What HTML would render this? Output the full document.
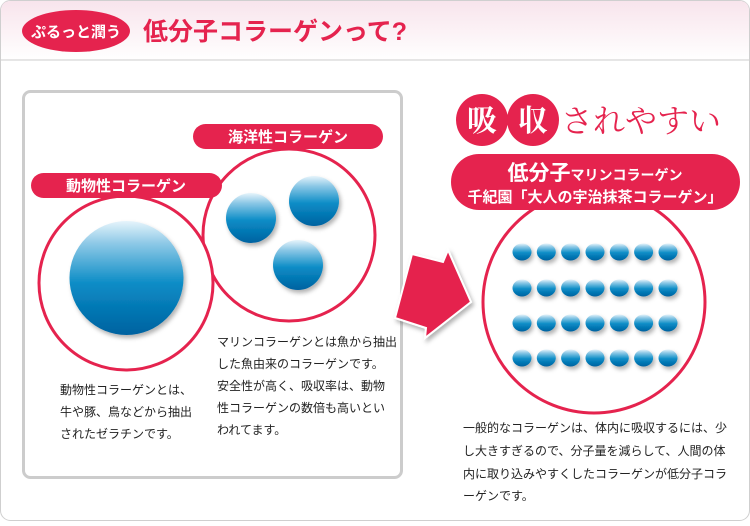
<!DOCTYPE html>
<html><head><meta charset="utf-8"><style>
html,body{margin:0;padding:0;background:#fff;}
body{width:750px;height:521px;overflow:hidden;font-family:"Liberation Sans","Noto Sans CJK JP",sans-serif;}
</style></head><body>
<svg width="750" height="521" viewBox="0 0 750 521" xmlns="http://www.w3.org/2000/svg" font-family="Liberation Sans, Noto Sans CJK JP, sans-serif">
<defs>
<linearGradient id="hdr" x1="0" y1="0" x2="0" y2="1"><stop offset="0" stop-color="#f8e4ec"/><stop offset="1" stop-color="#fff"/></linearGradient>
<linearGradient id="ball" x1="0" y1="0" x2="0" y2="1"><stop offset="0" stop-color="#e6f4fb"/><stop offset="0.2" stop-color="#8cc8e6"/><stop offset="0.55" stop-color="#0a8cc6"/><stop offset="1" stop-color="#0062a0"/></linearGradient>
<filter id="sh" x="-30%" y="-30%" width="160%" height="160%"><feDropShadow dx="2" dy="3" stdDeviation="2" flood-color="#000" flood-opacity="0.3"/></filter>
</defs>
<rect x="0.5" y="0.5" width="749" height="520" rx="10" fill="#fff" stroke="#cfcfcf"/>
<path d="M1 60 V11 Q1 1 11 1 H739 Q749 1 749 11 V60 Z" fill="url(#hdr)"/>
<line x1="1" y1="60" x2="749" y2="60" stroke="#cccccc"/>
<ellipse cx="76" cy="31" rx="54" ry="21" fill="#e5234e"/>
<text x="76" y="37" font-size="15" font-weight="bold" fill="#fff" text-anchor="middle">ぷるっと潤う</text>
<text x="143" y="40" font-size="25" font-weight="bold" fill="#e5234e">低分子コラーゲンって?</text>

<rect x="23.5" y="91.5" width="378" height="386" rx="7" fill="#fff" stroke="#cccccc" stroke-width="3"/>

<circle cx="289" cy="235" r="86" fill="#fff" stroke="#e5234e" stroke-width="3"/>
<circle cx="126" cy="283" r="87" fill="#fff" stroke="#e5234e" stroke-width="3"/>
<rect x="31" y="173" width="191" height="25" rx="12.5" fill="#e5234e"/>
<text x="126" y="191" font-size="15" font-weight="bold" fill="#fff" text-anchor="middle">動物性コラーゲン</text>
<rect x="193" y="124" width="190" height="25" rx="12.5" fill="#e5234e"/>
<text x="288" y="142" font-size="15" font-weight="bold" fill="#fff" text-anchor="middle">海洋性コラーゲン</text>

<circle cx="126.5" cy="278" r="57" fill="url(#ball)" filter="url(#sh)"/>
<circle cx="251" cy="218" r="25" fill="url(#ball)" filter="url(#sh)"/>
<circle cx="314" cy="201" r="25" fill="url(#ball)" filter="url(#sh)"/>
<circle cx="298" cy="265" r="25" fill="url(#ball)" filter="url(#sh)"/>

<g font-size="12" fill="#222">
<text x="60" y="394">動物性コラーゲンとは、</text>
<text x="60" y="416">牛や豚、鳥などから抽出</text>
<text x="60" y="438">されたゼラチンです。</text>
<text x="217" y="346">マリンコラーゲンとは魚から抽出</text>
<text x="217" y="368">した魚由来のコラーゲンです。</text>
<text x="217" y="390">安全性が高く、吸収率は、動物</text>
<text x="217" y="412">性コラーゲンの数倍も高いとい</text>
<text x="217" y="434">われてます。</text>
<text x="463" y="432">一般的なコラーゲンは、体内に吸収するには、少</text>
<text x="463" y="455">し大きすぎるので、分子量を減らして、人間の体</text>
<text x="463" y="478">内に取り込みやすくしたコラーゲンが低分子コラ</text>
<text x="463" y="500">ーゲンです。</text>
</g>

<polygon points="412,254 443,262 448,250 471,302 425,338 426,328 395,318" fill="#e5234e" stroke="#fff" stroke-width="2" filter="url(#sh)"/>

<circle cx="482" cy="120" r="26" fill="#e5234e"/>
<circle cx="533" cy="120" r="26" fill="#e5234e"/>
<text x="482" y="131" font-size="30" font-weight="bold" fill="#fff" text-anchor="middle" font-family="Noto Serif CJK SC, serif">吸</text>
<text x="533" y="131" font-size="30" font-weight="bold" fill="#fff" text-anchor="middle" font-family="Noto Serif CJK SC, serif">収</text>
<text x="561" y="132" font-size="32" fill="#e5234e" font-family="Noto Serif CJK SC, serif">されやすい</text>

<circle cx="594" cy="302" r="111" fill="#fff" stroke="#e5234e" stroke-width="3"/>
<rect x="451" y="154" width="289" height="56" rx="28" fill="#e5234e"/>
<text x="595" y="180" font-size="14" font-weight="bold" fill="#fff" text-anchor="middle"><tspan font-size="21">低分子</tspan>マリンコラーゲン</text>
<text x="595" y="202" font-size="15" font-weight="bold" fill="#fff" text-anchor="middle">千紀園「大人の宇治抹茶コラーゲン」</text>

<g fill="url(#ball)" filter="url(#sh)">
<g id="row">
<ellipse cx="522" cy="252" rx="9.5" ry="8.5"/><ellipse cx="546.3" cy="252" rx="9.5" ry="8.5"/><ellipse cx="570.6" cy="252" rx="9.5" ry="8.5"/><ellipse cx="595" cy="252" rx="9.5" ry="8.5"/><ellipse cx="619.3" cy="252" rx="9.5" ry="8.5"/><ellipse cx="643.6" cy="252" rx="9.5" ry="8.5"/><ellipse cx="668" cy="252" rx="9.5" ry="8.5"/>
</g>
<use href="#row" y="36"/>
<use href="#row" y="71"/>
<use href="#row" y="106"/>
</g>
</svg>
</body></html>
